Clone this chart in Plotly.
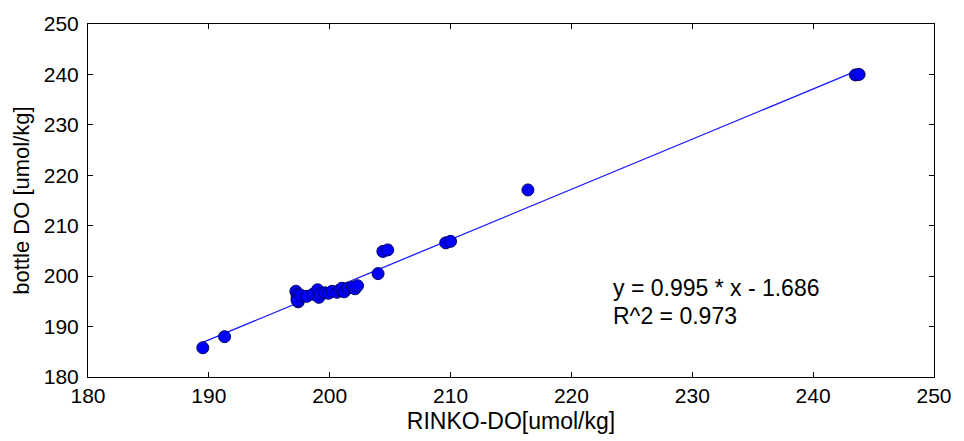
import numpy as np
import plotly.graph_objects as go

# Sensor DO vs bottle DO (umol/kg)
rinko_do = [189.5, 191.3,
            197.2, 197.3, 197.3, 197.4, 197.3, 197.6, 198.1, 198.6, 199.0, 199.1,
            199.2, 199.6, 199.9, 200.2, 200.6, 200.8, 201.0, 201.2, 201.5, 201.9,
            202.1, 202.3,
            204.0, 204.4, 204.8, 209.6, 210.0, 216.4, 243.5, 243.8]
bottle_do = [185.8, 188.0,
             197.0, 196.3, 195.6, 194.9, 195.2, 196.2, 196.0, 196.4, 197.3, 195.8,
             196.5, 196.7, 196.6, 197.0, 196.8, 197.2, 197.6, 196.9, 197.6, 197.8,
             197.5, 198.1,
             200.5, 204.9, 205.2, 206.6, 206.9, 217.1, 239.9, 240.0]

slope, intercept = 0.995, -1.686
r_squared = 0.973

x_tick_vals = [180, 190, 200, 210, 220, 230, 240, 250]
y_tick_vals = [180, 190, 200, 210, 220, 230, 240, 250]

FONT = "Liberation Sans, Arial, sans-serif"

fit_x = np.array([min(rinko_do), max(rinko_do)])
fit_y = slope * fit_x + intercept

fig = go.Figure()
fig.add_trace(go.Scatter(
    x=fit_x, y=fit_y, mode="lines",
    line=dict(color="#1a1aff", width=1.3), showlegend=False,
))
fig.add_trace(go.Scatter(
    x=rinko_do, y=bottle_do, mode="markers",
    marker=dict(color="#0000ff", size=12, line=dict(color="#000060", width=1)),
    showlegend=False,
))

fig.add_annotation(
    x=223.3, y=197.6, xref="x", yref="y",
    text="y = %.3f * x - %.3f" % (slope, -intercept),
    showarrow=False, xanchor="left", yanchor="middle",
    font=dict(family=FONT, size=23, color="black"),
)
fig.add_annotation(
    x=223.3, y=192.1, xref="x", yref="y",
    text="R^2 = %.3f" % r_squared,
    showarrow=False, xanchor="left", yanchor="middle",
    font=dict(family=FONT, size=23, color="black"),
)

axis_common = dict(
    showgrid=False, zeroline=False,
    showline=True, linecolor="black", linewidth=1, mirror="ticks",
    ticks="inside", ticklen=5, tickwidth=1, tickcolor="black",
    tickfont=dict(family=FONT, size=21, color="black"),
)

fig.update_xaxes(
    range=[180, 250], tickvals=x_tick_vals,
    title=dict(text="RINKO-DO[umol/kg]", standoff=6,
               font=dict(family=FONT, size=23, color="black")),
    **axis_common,
)
fig.update_yaxes(
    range=[180, 250], tickvals=y_tick_vals, ticklabelstandoff=4,
    title=dict(text="bottle DO [umol/kg]", standoff=8,
               font=dict(family=FONT, size=22, color="black")),
    **axis_common,
)

fig.update_layout(
    width=964, height=441,
    margin=dict(l=88, r=19, t=20, b=63),
    paper_bgcolor="white", plot_bgcolor="white",
)

fig.write_html("out.html")
